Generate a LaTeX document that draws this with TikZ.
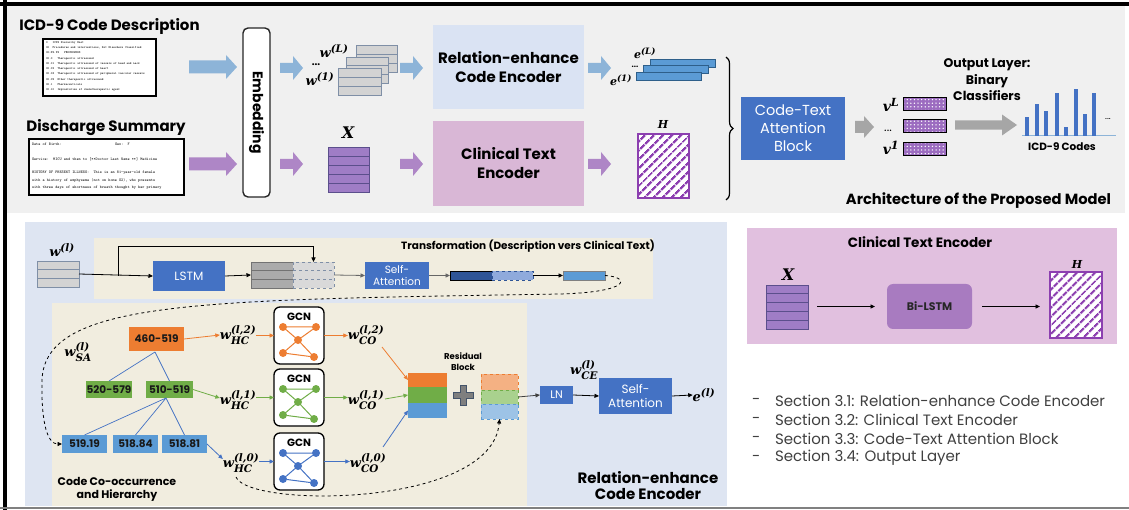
\RequirePackage{fix-cm}
\documentclass[tikz,border=0pt]{standalone}
\usepackage[no-math]{fontspec}
\setmainfont{Poppins}
\newfontfamily\dvs{DejaVu Serif}
\usepackage{amsmath}
\makeatletter
\def\defaultscriptratio{.8}
\makeatother
\newcommand\mbi{\dvs\bfseries\itshape}
\newcommand\labs[3]{$\text{\mbi #1}^{\text{\mbi #2}}_{\text{\mbi #3}}$}
\newcommand\lab[2]{$\text{\mbi #1}^{\text{\mbi #2}}$}
\usetikzlibrary{arrows.meta,calc,patterns.meta,decorations.pathreplacing}
\definecolor{topgray}{HTML}{F0F0F0}
\definecolor{arrblue}{HTML}{8DB4D8}
\definecolor{arrpur}{HTML}{AE86C6}
\definecolor{arrgray}{HTML}{A6A6A6}
\definecolor{boxblue}{HTML}{4472C4}
\definecolor{relight}{HTML}{DAE3F3}
\definecolor{ctepink}{HTML}{D9B7D6}
\definecolor{panelblue}{HTML}{DEE5F2}
\definecolor{beige}{HTML}{F1EDDF}
\definecolor{panelpink}{HTML}{E1C0DF}
\definecolor{tblgray}{HTML}{D3D3D3}
\definecolor{tblline}{HTML}{7F8FA6}
\definecolor{xpur}{HTML}{9F7DC6}
\definecolor{xline}{HTML}{5B4F8C}
\definecolor{ebar}{HTML}{5B9BD5}
\definecolor{ebord}{HTML}{2E5F8A}
\definecolor{hatch}{HTML}{8C3FB0}
\definecolor{vpur}{HTML}{9C6CC0}
\definecolor{cor}{HTML}{ED7D31}
\definecolor{cgr}{HTML}{70AD47}
\definecolor{cbl}{HTML}{5B9BD5}
\definecolor{cdk}{HTML}{4472C4}
\definecolor{lor}{HTML}{F4B183}
\definecolor{lgr}{HTML}{A9D18E}
\definecolor{lbl}{HTML}{9DC3E6}
\definecolor{bilstm}{HTML}{A87BC0}
\definecolor{sectxt}{HTML}{404040}
\definecolor{darkbar}{HTML}{2F5597}
\definecolor{lightbar}{HTML}{8FAADC}
\definecolor{plusg}{HTML}{7F7F7F}
\definecolor{plusb}{HTML}{44546A}
\newcommand\barrow[7]{\fill[#7] (#1,#3-#4) -- (#2-#6,#3-#4) -- (#2-#6,#3-#5) -- (#2,#3) -- (#2-#6,#3+#5) -- (#2-#6,#3+#4) -- (#1,#3+#4) -- cycle;}
\newcommand\rlines[3]{\foreach \k in {1,...,#2}{\draw[#3] ($(#1.north west)!{\k/(#2+1)}!(#1.south west)$) -- ($(#1.north east)!{\k/(#2+1)}!(#1.south east)$);}}
\newcommand\gcn[4]{%
  \node[gcnbox] (#1) at (#2,#3+28.5) {};
  \node[gcnt] (#1t) at (#2,#3+10) {GCN};
  \node[gnode,fill=#4] (#1a) at (#2-16,#3+20) {};
  \node[gnode,fill=#4] (#1b) at (#2+17,#3+20) {};
  \node[gnode,fill=#4] (#1c) at (#2-1,#3+33) {};
  \node[gnode,fill=#4] (#1d) at (#2-16,#3+46) {};
  \node[gnode,fill=#4] (#1e) at (#2+15,#3+50) {};
  \draw[#4,line width=1pt] (#1a)--(#1b) (#1a)--(#1c) (#1b)--(#1c) (#1c)--(#1d) (#1c)--(#1e) (#1d)--(#1e);}
\tikzset{
  sz/.style 2 args={minimum width=#1,minimum height=#2},
  ttl/.style={font=\bfseries\fontsize{15}{18}\selectfont},
  docbox/.style={draw=black,line width=1.6pt,fill=white},
  doctxt/.style={font=\ttfamily\fontsize{3.1}{5.25}\selectfont,align=left,anchor=north west},
  tbl/.style={draw=tblline,fill=tblgray,line width=0.8pt},
  xmat/.style={draw=xline,fill=xpur,line width=0.8pt},
  bigbox/.style={font=\bfseries\fontsize{15}{19}\selectfont,align=center},
  blubox/.style={fill=boxblue,text=white,align=center},
  ebarst/.style={fill=ebar,draw=ebord,line width=0.8pt},
  hbox/.style={preaction={fill=white},pattern={Lines[angle=45,distance=6.5pt,line width=2.6pt]},pattern color=hatch,draw=hatch,line width=1.3pt},
  vbar/.style={preaction={fill=vpur},pattern={Dots[distance=3.6pt,radius=0.75pt]},pattern color=white,draw=black,line width=0.9pt},
  mth/.style={font=\fontsize{13}{15}\selectfont},
  mths/.style={font=\fontsize{11}{13}\selectfont},
  mthl/.style={font=\fontsize{16}{18}\selectfont},
  arr/.style={-{Triangle[length=4.5pt,width=4pt]},line width=0.8pt},
  codebox/.style={font=\bfseries\fontsize{10.5}{12}\selectfont,text=black!90},
  gcnbox/.style={draw=black,line width=1.3pt,rounded corners=6pt,fill=white,minimum width=50,minimum height=57},
  gcnt/.style={font=\bfseries\fontsize{10.5}{12}\selectfont},
  gnode/.style={circle,minimum size=8pt},
  sect/.style={font=\fontsize{15}{17}\selectfont,text=sectxt,anchor=west}
}
\begin{document}
\begin{tikzpicture}[x=1pt,y=-1pt,every node/.style={inner sep=0pt,outer sep=0pt}]
\useasboundingbox (0,0) rectangle (1129,510);
\fill[white] (0,0) rectangle (1129,510);
\fill[topgray] (7,6) rectangle (1125,213);
\fill[black] (0,2) rectangle (1129,6);
\fill[black] (3,0) rectangle (7,510);
\fill[black!50] (0,507) rectangle (1129,509);

% ---------- top part ----------
\node[ttl] (t1) at (109.5,26) {ICD-9 Code Description};
\node[ttl] (t2) at (106,128) {Discharge Summary};
\node[docbox,sz={113}{57}] (desc) at (99.5,67.5) {};
\node[doctxt] (desct) at (46,41.5) {0\ \ \ ICD9 Hierarchy Root\\00\ \ Procedures and interventions, Not Elsewhere Classified\\00-99.99\ \ \ PROCEDURES\\00.0\ \ \ Therapeutic ultrasound\\00.01\ \ Therapeutic ultrasound of vessels of head and neck\\00.02\ \ Therapeutic ultrasound of heart\\00.03\ \ Therapeutic ultrasound of peripheral vascular vessels\\00.09\ \ Other therapeutic ultrasound\\00.1\ \ \ Pharmaceuticals\\00.10\ \ Implantation of chemotherapeutic agent};
\node[docbox,sz={155}{56}] (disc) at (106.5,167) {};
\node[doctxt,font=\ttfamily\fontsize{4}{7.4}\selectfont] (disct) at (32,143.5) {\makebox[83pt][l]{Date of Birth:}Sex:\ \ F\\[7.6pt]Service:\ \ MICU and then to [**Doctor Last Name **] Medicine\\[5.6pt]HISTORY OF PRESENT ILLNESS:\ \ This is an 81-year-old female\\with a history of emphysema (not on home O2), who presents\\with three days of shortness of breath thought by her primary};

\barrow{189}{237}{67}{6.5}{12}{11}{arrblue}
\barrow{189}{237}{164}{6.5}{12}{11}{arrpur}
\node[draw=black!85,line width=1.4pt,rounded corners=5pt,fill=white,sz={27}{169}] (emb) at (256.5,112.5) {};
\node[rotate=-90,font=\bfseries\fontsize{14}{16}\selectfont] (embt) at (emb.center) {Embedding};
\barrow{280}{303}{68}{5}{12}{10}{arrblue}
\barrow{280}{303}{164}{5}{12}{10}{arrpur}

\node[tbl,sz={41}{27}] (wb) at (376.5,58.5) {};\rlines{wb}{2}{tblline,line width=0.8pt}
\node[tbl,sz={42}{26}] (wm) at (367,70) {};\rlines{wm}{2}{tblline,line width=0.8pt}
\node[tbl,sz={43}{27}] (wf) at (359.5,81.5) {};\rlines{wf}{2}{tblline,line width=0.8pt}
\node[mth] (wL) at (334,51) {\lab{w}{(L)}};
\node[font=\fontsize{10}{10}\selectfont\bfseries] (wdots) at (316,65) {...};
\node[mth] (w1) at (320,79) {\lab{w}{(1)}};

\node[mthl] (xl) at (348,133) {\mbi X};
\node[xmat,sz={41}{45}] (xm) at (348.5,169.5) {};\rlines{xm}{4}{xline,line width=0.8pt}

\barrow{400}{423}{68}{5}{12}{10}{arrblue}
\barrow{400}{423}{164}{5}{12}{10}{arrpur}
\node[bigbox,fill=relight,sz={151}{84}] (re) at (508.5,67) {Relation-enhance\\Code Encoder};
\node[bigbox,fill=ctepink,sz={151}{85}] (cte) at (508.5,163.5) {Clinical Text\\Encoder};
\barrow{588}{611}{68}{5}{12}{10}{arrblue}
\barrow{588}{611}{164}{5}{12}{10}{arrpur}

\node[ebarst,sz={65}{8}] (eb1) at (682.5,63) {};
\node[ebarst,sz={65}{8}] (eb2) at (675.5,69.5) {};
\node[ebarst,sz={65}{8}] (eb3) at (668.5,76.5) {};
\node[mths] (eL) at (645,53) {\lab{e}{(L)}};
\node[mths] (e1) at (621,80) {\lab{e}{(1)}};
\node[font=\fontsize{8}{9}\selectfont\bfseries] (edots) at (635,67) {...};

\node[mths] (hl) at (663,124) {\mbi H};
\node[hbox,sz={51}{64}] (hb) at (663.5,166) {};

\draw[decorate,decoration={brace,amplitude=7pt},line width=1.2pt] (726,57) -- (726,200);

\node[blubox,font=\fontsize{14.5}{18}\selectfont,sz={104}{63}] (att) at (793,128.5) {Code-Text\\Attention\\Block};
\barrow{855}{874}{127}{6}{11}{10}{arrgray}
\node[vbar,sz={43}{13}] (vL) at (924.5,103.5) {};
\node[vbar,sz={43}{13}] (vm) at (924.5,126) {};
\node[vbar,sz={43}{13}] (v1) at (924.5,149) {};
\node[font=\fontsize{14}{16}\selectfont] (vLl) at (891,105) {\lab{v}{L}};
\node[font=\fontsize{12}{14}\selectfont] (vdl) at (888,131) {...};
\node[font=\fontsize{14}{16}\selectfont] (v1l) at (891,148) {\lab{v}{1}};
\barrow{955}{1017}{125}{4.7}{10.5}{15}{arrgray}
\node[font=\bfseries\fontsize{12.5}{16.5}\selectfont,align=center] (ol) at (987,80) {Output Layer:\\Binary\\Classifiers};
\draw[color=arrblue,line width=1pt] (1022,136) -- (1116,136);
\foreach \bx/\by in {1027/117,1037/104,1046/111,1057/93,1066/127,1076/89,1085/114,1094/93}{\fill[cdk] (\bx-2,\by) rectangle (\bx+2,136);}
\node[font=\fontsize{9}{10}\selectfont] (cdots) at (1108,119) {...};
\node[font=\bfseries\fontsize{10.5}{12}\selectfont] (icd) at (1062,147) {ICD-9 Codes};
\node[font=\bfseries\fontsize{14.7}{17}\selectfont] (arch) at (978.5,201) {Architecture of the Proposed Model};

% ---------- lower left ----------
\fill[panelblue] (25,222) rectangle (727,506);
\fill[beige] (94,238) rectangle (653,299);
\fill[beige] (52,303) rectangle (527,506);
\node[font=\bfseries\fontsize{10.5}{12}\selectfont] (trt) at (528,246) {Transformation (Description vers Clinical Text)};

\node[mth] (wll) at (62,250) {\lab{w}{(l)}};
\node[tbl,sz={42}{26}] (wl) at (58,274) {};\rlines{wl}{2}{tblline,line width=0.8pt}
\node[blubox,font=\fontsize{12}{14}\selectfont,sz={72}{30}] (lstm) at (189,276) {LSTM};
\node[draw=black!55,fill=black!33,line width=0.8pt,sz={42}{26}] (cs) at (272,275) {};\rlines{cs}{2}{black!55,line width=0.8pt}
\node[draw=tblline,dashed,fill=black!15,line width=0.8pt,sz={41}{26}] (cd) at (313.5,275) {};\rlines{cd}{2}{tblline,dashed,line width=0.8pt}
\coordinate (br) at (118,276);
\coordinate (tp) at (313.5,246);
\draw[arr] (wl.east) -- (lstm.west);
\draw[arr] (br) |- (tp) -- (cd.north);
\draw[arr] (lstm.east) -- (cs.west);
\node[blubox,font=\fontsize{10.5}{12.5}\selectfont,sz={64}{27}] (sa1) at (397,275.5) {Self-\\Attention};
\draw[arr,black!60] (cd.east) -- (sa1.west);
\node[fill=darkbar,draw=black,line width=0.8pt,sz={42}{9}] (db) at (471,275.5) {};
\node[fill=lightbar,draw=darkbar,dashed,line width=0.8pt,sz={41}{9}] (dl) at (512.5,275.5) {};
\draw[arr,black!60] (sa1.east) -- (db.west);
\node[fill=ebar,draw=black!50,line width=0.8pt,sz={42}{9}] (sb) at (584,275.5) {};
\draw[arr] (dl.east) -- (sb.west);

% tree
\node[codebox,fill=cor,sz={55}{24}] (n460) at (156.5,339) {460-519};
\node[codebox,fill=cgr,sz={46}{17}] (n520) at (109,389.5) {520-579};
\node[codebox,fill=cgr,sz={47}{17}] (n510) at (169.5,389.5) {510-519};
\node[codebox,fill=cbl,sz={45}{18}] (n51919) at (84.5,444) {519.19};
\node[codebox,fill=cbl,sz={45}{18}] (n51884) at (135.5,444) {518.84};
\node[codebox,fill=cbl,sz={45}{18}] (n51881) at (184.5,444) {518.81};
\coordinate (j1) at (155,352);
\coordinate (j2) at (166,398);
\draw[cdk,line width=0.7pt] (j1) -- (n520.north) (j1) -- (n510.north);
\draw[cdk,line width=0.7pt] (j2) -- (n51919.north) (j2) -- (n51884.north) (j2) -- (n51881.north);

\draw[dashed,line width=0.8pt,-{Triangle[length=4.5pt,width=4pt]}] (sb.east) .. controls (630,277) and (632,292) .. (560,294) .. controls (200,300) and (45,300) .. (42,380) .. controls (41,425) and (48,444) .. (n51919.west);
\node[mth] (wsa) at (78,352) {\labs{w}{(l)}{SA}};

\node[mth] (whc2) at (238,335) {\labs{w}{(l,2)}{HC}};
\node[mth] (whc1) at (238,400) {\labs{w}{(l,1)}{HC}};
\node[mth] (whc0) at (241,463) {\labs{w}{(l,0)}{HC}};
\draw[arr,cor] (n460.east) -- (whc2.west);
\draw[arr,cgr] (n510.east) -- ($(whc1.west)+(0,-2)$);
\draw[arr,cdk] (n51881.east) -- ($(whc0.west)+(0,-4)$);

\gcn{g2}{299}{307}{cor}
\gcn{g1}{299}{369}{cgr}
\gcn{g0}{299}{433}{cdk}
\draw[arr,cor] (whc2.east |- g2.west) -- (g2.west);
\draw[arr,cgr] (whc1.east |- g1.west) -- (g1.west);
\draw[arr,cdk] (whc0.east |- g0.west) -- (g0.west);

\node[mth] (wco2) at (366,335) {\labs{w}{(l,2)}{CO}};
\node[mth] (wco1) at (366,400) {\labs{w}{(l,1)}{CO}};
\node[mth] (wco0) at (368,463) {\labs{w}{(l,0)}{CO}};
\draw[arr,cor] (g2.east) -- (wco2.west |- g2.east);
\draw[arr,cgr] (g1.east) -- (wco1.west |- g1.east);
\draw[arr,cdk] (g0.east) -- (wco0.west |- g0.east);

\node[fill=cor,sz={39}{14}] (rso) at (427.5,380) {};
\node[fill=cgr,sz={39}{16}] (rsg) at (427.5,395) {};
\node[fill=cbl,sz={39}{15}] (rsb) at (427.5,410.5) {};
\coordinate (o2) at (382,347);
\coordinate (o1) at (385,399);
\coordinate (o0) at (383,447);
\draw[arr,cor] (o2) -- (rso.west);
\draw[arr,cgr] (o1) -- (rsg.west);
\draw[arr,cdk] (o0) -- (rsb.west);

\fill[plusg,draw=plusb,line width=0.8pt] (460,385) -- (466,385) -- (466,392) -- (473,392) -- (473,398) -- (466,398) -- (466,405) -- (460,405) -- (460,398) -- (453,398) -- (453,392) -- (460,392) -- cycle;
\node[font=\bfseries\fontsize{8.5}{11}\selectfont,align=center] (resl) at (463,362) {Residual\\Block};

\node[fill=lor,draw=cor,dashed,line width=0.8pt,sz={37}{16}] (dso) at (499.5,382) {};
\node[fill=lgr,draw=cgr,dashed,line width=0.8pt,sz={37}{14}] (dsg) at (499.5,397) {};
\node[fill=lbl,draw=cbl,dashed,line width=0.8pt,sz={37}{15}] (dsb) at (499.5,411.5) {};
\coordinate (c0) at (236,477);
\draw[dashed,line width=0.8pt,-{Triangle[length=4.5pt,width=4pt]}] (c0) .. controls (248,508) and (492,508) .. (dsb.south);

\node[blubox,font=\fontsize{11}{13}\selectfont,sz={33}{18}] (ln) at (556.5,395) {LN};
\draw[arr,black!75] (dsg.east) -- (ln.west);
\node[blubox,font=\fontsize{12}{14.5}\selectfont,sz={73}{36}] (sa2) at (635.5,396) {Self-\\Attention};
\draw[arr] (ln.east) -- (sa2.west);
\node[mth] (wce) at (584,370) {\labs{w}{(l)}{CE}};
\node[mth] (el) at (704,395) {\lab{e}{(l)}};
\draw[arr] (sa2.east) -- (el.west);
\node[font=\bfseries\fontsize{15}{16}\selectfont,align=center] (rel) at (648,486) {Relation-enhance\\Code Encoder};
\node[font=\bfseries\fontsize{11}{13}\selectfont,align=center] (cch) at (117,489) {Code Co-occurrence\\and Hierarchy};

% ---------- right ----------
\fill[panelpink] (747,228) rectangle (1117,344);
\node[font=\bfseries\fontsize{13.5}{15}\selectfont] (cteT) at (920,242) {Clinical Text Encoder};
\node[mthl] (xl2) at (788,275) {\mbi X};
\node[xmat,sz={42}{44}] (xm2) at (787,307) {};\rlines{xm2}{4}{xline,line width=0.8pt}
\node[fill=bilstm,rounded corners=6pt,sz={85}{45},font=\bfseries\fontsize{11}{13}\selectfont,text=black!85] (bil) at (929.5,306.5) {Bi-LSTM};
\node[mths] (hl2) at (1077,264) {\mbi H};
\node[hbox,sz={52}{66}] (hb2) at (1076,305) {};
\draw[arr,shorten <=9pt,shorten >=12pt] (xm2.east |- bil.west) -- (bil.west);
\draw[arr,shorten <=10pt,shorten >=10pt] (bil.east) -- (hb2.west |- bil.east);

\node[sect] (s0d) at (752,401) {-};
\node[sect] (s0) at (775,401) {Section 3.1: Relation-enhance Code Encoder};
\node[sect] (s1d) at (752,420) {-};
\node[sect] (s1) at (775,420) {Section 3.2: Clinical Text Encoder};
\node[sect] (s2d) at (752,439) {-};
\node[sect] (s2) at (775,439) {Section 3.3: Code-Text Attention Block};
\node[sect] (s3d) at (752,458) {-};
\node[sect] (s3) at (775,458) {Section 3.4: Output Layer};
\end{tikzpicture}
\end{document}
